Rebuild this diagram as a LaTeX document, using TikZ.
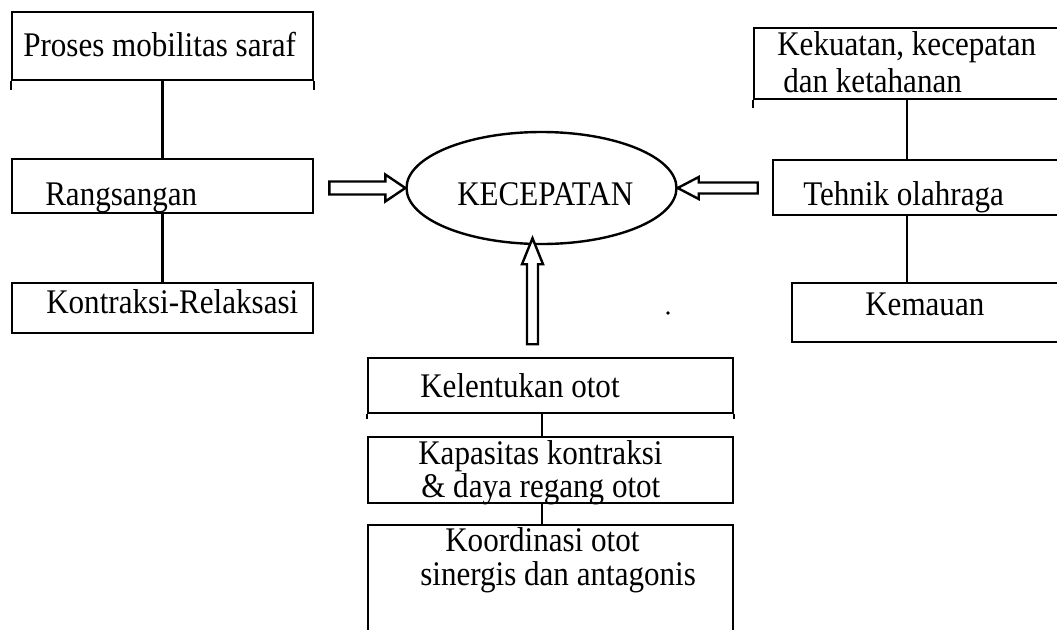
\documentclass[tikz,border=0pt]{standalone}
\usepackage{fontspec}
\setmainfont{Liberation Serif}[FakeStretch=0.9]
\usetikzlibrary{calc,fit,shapes.geometric}
\begin{document}
\begin{tikzpicture}[x=0.75pt,y=-0.75pt,
  box/.style={draw,line width=1.8pt,rectangle,inner sep=0pt},
  txt/.style={anchor=base west,inner sep=0pt,font=\fontsize{25.9pt}{26pt}\selectfont},
  link/.style={line width=1.8pt},
  hollow/.style={draw,line width=1.8pt,fill=white,line join=miter}]
\useasboundingbox (0,0) rectangle (1057,629);
\clip (0,0) rectangle (1057,629);

% left column
\node[box,fit={(12,12) (313,80)}] (p1) {};
\node[box,fit={(12,159) (313,213)}] (p2) {};
\node[box,fit={(12,283) (313,333)}] (p3) {};
\node[txt] (tp1) at (23,56) {Proses mobilitas saraf};
\node[txt] (tp2) at (45,205) {Rangsangan};
\node[txt] (tp3) at (46,313) {Kontraksi-Relaksasi};
\draw[link] (p1.south west) -- ++(0,9);
\draw[link] (p1.south east) -- ++(0,9);
\draw[link] (p1) -- (p2);
\draw[link] (p2) -- (p3);

% right column
\node[box,fit={(754,28) (1075,99)}] (r1) {};
\node[box,fit={(773,160) (1075,215)}] (r2) {};
\node[box,fit={(792,283) (1075,342)}] (r3) {};
\node[txt] (tr1a) at (777,55) {Kekuatan, kecepatan};
\node[txt] (tr1b) at (783,92) {dan ketahanan};
\node[txt] (tr2) at (803,205) {Tehnik olahraga};
\node[txt] (tr3) at (865,315) {Kemauan};
\draw[link] (r1.south west) -- ++(0,8);
\draw[link] ($(r1.south west)+(154,0)$) -- ($(r2.north west)+(135,0)$);
\draw[link] ($(r2.south west)+(135,0)$) -- ($(r3.north west)+(116,0)$);

% centre
\node[draw,ellipse,line width=1.8pt,inner sep=0pt,minimum width=202.5pt,minimum height=84pt] (kec) at (541.5,188) {};
\node[txt] (tk) at (457,205) {KECEPATAN};

% bottom column
\node[box,fit={(368,358) (733,413)}] (b1) {};
\node[box,fit={(368,437) (733,503)}] (b2) {};
\node[box,fit={(368,525) (733,645)}] (b3) {};
\node[txt] (tb1) at (420,397) {Kelentukan otot};
\node[txt] (tb2a) at (418,464) {Kapasitas kontraksi};
\node[txt] (tb2b) at (421,497) {\& daya regang otot};
\node[txt] (tb3a) at (445,551) {Koordinasi otot};
\node[txt] (tb3b) at (420,585) {sinergis dan antagonis};
\draw[link] (b1.south west) -- ++(0,5);
\draw[link] (b1.south east) -- ++(0,5);
\draw[link] ($(b1.south west)+(175,0)$) -- ($(b2.north west)+(175,0)$);
\draw[link] ($(b2.south west)+(175,0)$) -- ($(b3.north west)+(175,0)$);

% hollow arrows
\draw[hollow] ($(kec.west)+(-76,-6.5)$) -- ($(kec.west)+(-20,-6.5)$) -- ($(kec.west)+(-20,-13.5)$)
  -- (kec.west) -- ($(kec.west)+(-20,13.5)$) -- ($(kec.west)+(-20,6.5)$) -- ($(kec.west)+(-76,6.5)$) -- cycle;
\draw[hollow] ($(kec.east)+(80,-5.5)$) -- ($(kec.east)+(21,-5.5)$) -- ($(kec.east)+(21,-11)$)
  -- (kec.east) -- ($(kec.east)+(21,11)$) -- ($(kec.east)+(21,5.5)$) -- ($(kec.east)+(80,5.5)$) -- cycle;
\coordinate (ut) at ($(kec.south)+(-9,-7)$);
\draw[hollow] ($(ut)+(-5.5,106)$) -- ($(ut)+(-5.5,26)$) -- ($(ut)+(-10.5,26)$)
  -- (ut) -- ($(ut)+(10.5,26)$) -- ($(ut)+(5.5,26)$) -- ($(ut)+(5.5,106)$) -- cycle;

% speck
\fill (668,313) circle (1.8);
\end{tikzpicture}
\end{document}
